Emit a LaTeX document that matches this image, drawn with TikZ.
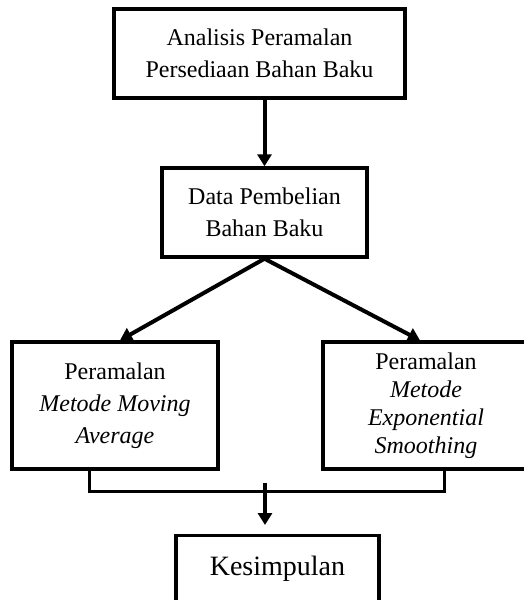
\documentclass[tikz,border=0pt]{standalone}
\usepackage{fontspec}
\setmainfont{Liberation Serif}
\usetikzlibrary{arrows.meta}

\tikzset{every picture/.style={line width=0.5pt}}
\tikzset{
  stepbox/.style={draw, line width=1.7pt, align=center, inner sep=2pt,
    font=\fontsize{12}{16}\selectfont},
  arr/.style={line width=2pt, -{Triangle[length=6pt,width=7pt]}},
  joinline/.style={line width=1.5pt}
}

\begin{document}
\begin{tikzpicture}[x=0.5pt,y=0.5pt,yscale=-1,xscale=1]
\useasboundingbox (0,0) rectangle (524,600);
\clip (0,0) rectangle (524,600);

% Boxes
\node [stepbox, minimum width=145.5pt, minimum height=44.5pt] (analisis) at (259.5,53.5) {Analisis Peramalan\\Persediaan Bahan Baku};
\node [stepbox, minimum width=102.5pt, minimum height=44.5pt] (data) at (264.5,212.5) {Data Pembelian\\Bahan Baku};
\node [stepbox, minimum width=103pt, minimum height=63.5pt] (movavg) at (115,405.5) {Peramalan\\\textit{Metode Moving}\\\textit{Average}};
\node [stepbox, minimum width=103pt, minimum height=63.5pt, font=\fontsize{12}{14}\selectfont] (expsm) at (426,405.5) {Peramalan\\\textit{Metode}\\\textit{Exponential}\\\textit{Smoothing}};
\node [stepbox, anchor=north, minimum width=101.5pt, inner ysep=10pt, text depth=35pt, font=\fontsize{14}{17}\selectfont] (kesimpulan) at (277.5,534) {Kesimpulan};

% Join points
\coordinate (joinL) at (89,491);
\coordinate (joinR) at (444,491);
\coordinate (joinT) at (265,483);

%Straight Lines
\draw [arr] (analisis.south -| data.north) -- (data.north);
\draw [arr] (data.south) -- ([xshift=2.5pt]movavg.north);
\draw [arr] (data.south) -- ([xshift=-3pt]expsm.north);
%Straight Lines
\draw [joinline] (joinL |- movavg.south) -- (joinL) -- (joinR) -- (joinR |- expsm.south);
\draw [arr, shorten >=4.5pt] (joinT) -- (joinT |- kesimpulan.north);
\end{tikzpicture}
\end{document}
